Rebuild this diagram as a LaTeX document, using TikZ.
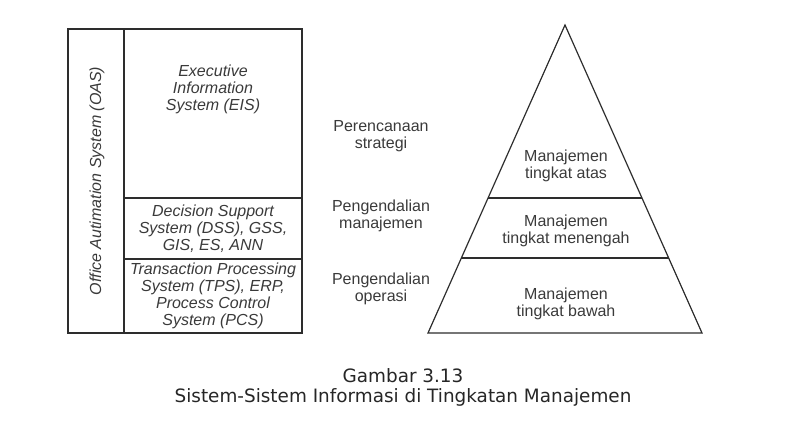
\documentclass[tikz,border=0pt]{standalone}
\usepackage{fontspec}
\setmainfont{Liberation Sans}
\newfontfamily\capfont{DejaVu Sans}
\definecolor{inkgrey}{RGB}{58,58,58}
\definecolor{linegrey}{RGB}{45,45,45}
\begin{document}
\begin{tikzpicture}[x=0.75pt,y=0.75pt,yscale=-1,xscale=1,
  lbl/.style={text=inkgrey,align=center,inner sep=0pt,font=\fontsize{12}{13}\selectfont},
  syslbl/.style={lbl,font=\fontsize{12}{12.8}\selectfont\itshape},
  captxt/.style={text=black!85,inner sep=0pt,font=\capfont\fontsize{13.8}{15}\selectfont}]
\useasboundingbox (0,0) rectangle (805,434);

%Shape: Rectangle [id:oas]
\draw [color=linegrey,line width=0.9pt] (68,29) rectangle (302,333) ;
%Straight Lines [id:div]
\draw [color=linegrey,line width=0.9pt] (124,29) -- (124,333) ;
%Straight Lines [id:eis]
\draw [color=linegrey,line width=0.9pt] (124,198) -- (302,198) ;
%Straight Lines [id:dss]
\draw [color=linegrey,line width=0.9pt] (124,259) -- (302,259) ;

%Shape: Triangle [id:pyr]
\draw [color=linegrey,line width=0.9pt] (565,25) -- (702,333) -- (428,333) -- cycle ;
%Straight Lines [id:top]
\draw [color=linegrey,line width=0.9pt] (488,198) -- (642,198) ;
%Straight Lines [id:mid]
\draw [color=linegrey,line width=0.9pt] (461,258) -- (669,258) ;

% Text Node
\node [syslbl,rotate=90] (oas) at (97,181) {Office Autimation System (OAS)};
% Text Node
\node [syslbl] (eis) at (213,89) {Executive\\Information\\System (EIS)};
% Text Node
\node [syslbl] (dss) at (213,229) {Decision Support\\System (DSS), GSS,\\GIS, ES, ANN};
% Text Node
\node [syslbl] (tps) at (213,296) {Transaction Processing\\System (TPS), ERP,\\Process Control\\System (PCS)};

% Text Node
\node [lbl] (plan) at (381,136) {Perencanaan\\strategi};
% Text Node
\node [lbl] (ctrlman) at (381,216) {Pengendalian\\manajemen};
% Text Node
\node [lbl] (ctrlop) at (381,289) {Pengendalian\\operasi};

% Text Node
\node [lbl] (mtop) at (566,166) {Manajemen\\tingkat atas};
% Text Node
\node [lbl] (mmid) at (566,231) {Manajemen\\tingkat menengah};
% Text Node
\node [lbl] (mlow) at (566,304) {Manajemen\\tingkat bawah};

% Text Node
\node [captxt] (capnum) at (403,376) {Gambar 3.13};
% Text Node
\node [captxt] (captitle) at (403,397) {Sistem-Sistem Informasi di Tingkatan Manajemen};

\end{tikzpicture}
\end{document}
